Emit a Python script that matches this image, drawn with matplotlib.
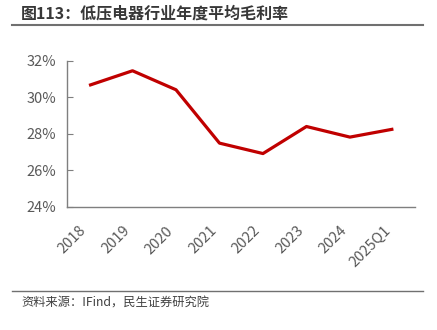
import matplotlib.pyplot as plt
import matplotlib.transforms as mtransforms
from matplotlib.lines import Line2D
from matplotlib.ticker import FuncFormatter

plt.rcParams['font.family'] = ['Noto Sans CJK SC', 'DejaVu Sans']

years = ['2018', '2019', '2020', '2021', '2022', '2023', '2024', '2025Q1']
margin = [30.65, 31.45, 30.41, 27.49, 26.92, 28.40, 27.82, 28.26]
yticks = [24, 26, 28, 30, 32]

fig = plt.figure(figsize=(4.37, 3.30), dpi=100)
ax = fig.add_axes([0.154, 0.373, 0.796, 0.443])

ax.plot(range(len(years)), margin, color='#C00000', lw=2.3, solid_capstyle='butt')
ax.set_xlim(-0.5, len(years) - 0.5)
ax.set_ylim(24, 32)
ax.set_yticks(yticks)
ax.yaxis.set_major_formatter(FuncFormatter(lambda v, p: '%d%%' % v))
ax.set_xticks(range(len(years)))
ax.set_xticklabels(years, rotation=45, ha='right', va='top')

# nudge the rotated year labels a little right, like the original
shift = mtransforms.ScaledTranslation(4 / 100, 0, fig.dpi_scale_trans)
for lab in ax.get_xticklabels():
    lab.set_transform(lab.get_transform() + shift)

for s in ['top', 'right']:
    ax.spines[s].set_visible(False)
for s in ['left', 'bottom']:
    ax.spines[s].set_color('#7f7f7f')
    ax.spines[s].set_linewidth(1.0)
ax.tick_params(axis='y', direction='in', length=4, color='#7f7f7f',
               labelsize=10.5, labelcolor='#595959', pad=8)
ax.tick_params(axis='x', length=0, labelsize=10.5, labelcolor='#595959', pad=12)

fig.text(0.048, 0.958, '图113：低压电器行业年度平均毛利率', fontsize=11.5,
         fontweight='bold', color='#383838', va='center', ha='left')
fig.add_artist(Line2D([0.027, 0.968], [0.924, 0.924], color='#707070', lw=1.5))
fig.add_artist(Line2D([0.027, 0.968], [0.119, 0.119], color='#707070', lw=1.0))
fig.text(0.048, 0.082, '资料来源：IFind，民生证券研究院', fontsize=8.8,
         color='#404040', va='center', ha='left')

fig.savefig('out.png', dpi=100)
